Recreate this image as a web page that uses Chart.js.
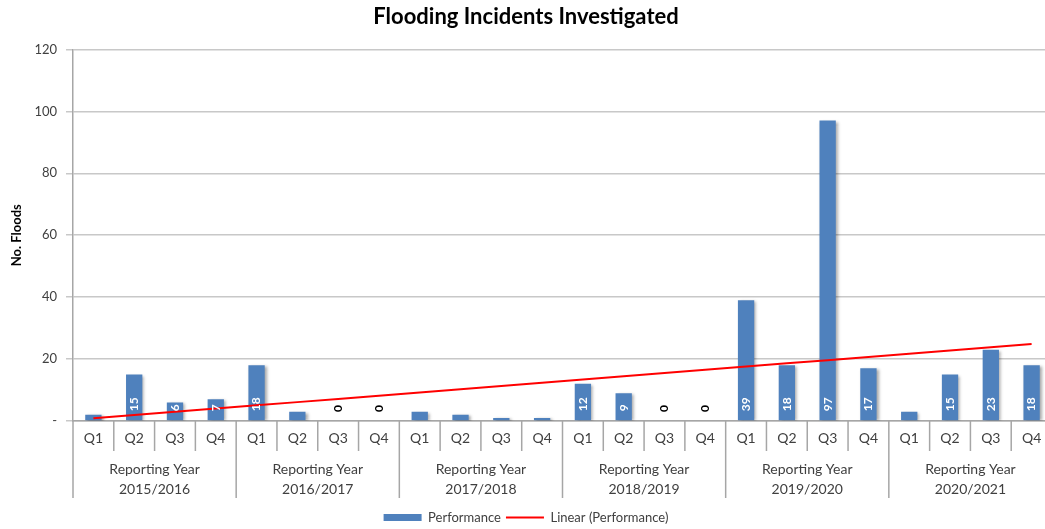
<!DOCTYPE html>
<html>
<head>
<meta charset="utf-8">
<script src="https://cdn.jsdelivr.net/npm/chart.js@4.4.1/dist/chart.umd.min.js"></script>
<style>
  html, body { margin: 0; padding: 0; background: #fff; overflow: hidden; }
  #wrap { width: 1056px; height: 534px; position: relative; }
</style>
</head>
<body>
<div id="wrap"><canvas id="floodChart"></canvas></div>
<script>
// dane z wykresu
const quarterNames = ['Q1', 'Q2', 'Q3', 'Q4'];
const reportingYears = ['2015/2016', '2016/2017', '2017/2018', '2018/2019', '2019/2020', '2020/2021'];
const floods = [2, 15, 6, 7, 18, 3, 0, 0, 3, 2, 1, 1, 12, 9, 0, 0, 39, 18, 97, 17, 3, 15, 23, 18];
const yMin = 0, yMax = 120, yStep = 20;

const categories = reportingYears.flatMap(() => quarterNames);

// linia trendu (regresja liniowa, jak w Excelu)
function linearTrend(values) {
    const n = values.length;
    let sx = 0, sy = 0, sxy = 0, sxx = 0;
    values.forEach((v, i) => { const x = i + 1; sx += x; sy += v; sxy += x * v; sxx += x * x; });
    const slope = (n * sxy - sx * sy) / (n * sxx - sx * sx);
    const intercept = (sy - slope * sx) / n;
    return values.map((_, i) => intercept + slope * (i + 1));
}

const FONT = 'Lato';
const TEXT = '#404040';
const BLUE = '#4f81bd';
const RED = '#ff0000';
const X_AXIS_H = 85;
const YEAR_SEP = 77;

const excelLook = {
    id: 'excelLook',
    beforeDatasetDraw(chart, args) {
        if (args.index !== 0) return;
        const ctx = chart.ctx;
        ctx.save();
        ctx.shadowColor = 'rgba(0,0,0,0.35)';
        ctx.shadowBlur = 3;
        ctx.shadowOffsetX = 2;
        ctx.shadowOffsetY = 1;
    },
    afterDatasetDraw(chart, args) {
        if (args.index !== 0) return;
        chart.ctx.restore();
    },
    afterDraw(chart) {
        const { ctx, chartArea, scales: { x } } = chart;
        const meta = chart.getDatasetMeta(0);
        const bottom = chartArea.bottom;

        // etykiety słupków
        ctx.save();
        ctx.font = 'bold 12px ' + FONT;
        ctx.textBaseline = 'middle';
        ctx.textAlign = 'left';
        meta.data.forEach((bar, i) => {
            const v = floods[i];
            if (v !== 0 && v < 5) return;
            ctx.save();
            ctx.translate(bar.x, bar.base - 9);
            ctx.rotate(-Math.PI / 2);
            ctx.fillStyle = v === 0 ? '#000' : '#fff';
            ctx.fillText(String(v), 0, 0);
            ctx.restore();
        });

        // separatory kwartałów i lat
        const half = (x.getPixelForValue(1) - x.getPixelForValue(0)) / 2;
        ctx.strokeStyle = '#a6a6a6';
        ctx.lineWidth = 1.5;
        for (let i = 0; i <= floods.length; i++) {
            const px = i < floods.length ? x.getPixelForValue(i) - half : x.getPixelForValue(i - 1) + half;
            const len = i % 4 === 0 ? YEAR_SEP : 30;
            ctx.beginPath();
            ctx.moveTo(px, bottom);
            ctx.lineTo(px, bottom + len);
            ctx.stroke();
        }

        // lata sprawozdawcze
        ctx.fillStyle = TEXT;
        ctx.font = '14px ' + FONT;
        ctx.textAlign = 'center';
        ctx.textBaseline = 'middle';
        reportingYears.forEach((yr, k) => {
            const cx = (x.getPixelForValue(4 * k) + x.getPixelForValue(4 * k + 3)) / 2;
            ctx.fillText('Reporting Year', cx, bottom + 48);
            ctx.fillText(yr, cx, bottom + 68);
        });
        ctx.restore();
    }
};

new Chart(document.getElementById('floodChart'), {
    type: 'bar',
    data: {
        labels: categories,
        datasets: [
            {
                label: 'Performance',
                data: floods,
                backgroundColor: BLUE,
                barPercentage: 0.8,
                categoryPercentage: 0.5,
                order: 2
            },
            {
                type: 'line',
                label: 'Linear (Performance)',
                data: linearTrend(floods),
                borderColor: RED,
                backgroundColor: RED,
                borderWidth: 2,
                pointRadius: 0,
                fill: false,
                order: 1
            }
        ]
    },
    options: {
        responsive: true,
        maintainAspectRatio: false,
        animation: false,
        layout: { padding: { left: 0, right: 4, top: 0, bottom: 0 } },
        plugins: {
            tooltip: { enabled: false },
            title: {
                display: true,
                text: 'Flooding Incidents Investigated',
                color: '#000',
                font: { family: FONT, size: 22, weight: 'bold' },
                padding: { top: 4, bottom: 19 }
            },
            legend: {
                position: 'bottom',
                labels: {
                    color: TEXT,
                    font: { family: FONT, size: 13 },
                    usePointStyle: true,
                    pointStyleWidth: 38,
                    boxHeight: 7,
                    padding: 5,
                    sort: (a, b) => a.datasetIndex - b.datasetIndex,
                    generateLabels(chart) {
                        return Chart.defaults.plugins.legend.labels.generateLabels(chart).map(l => {
                            const isBar = l.datasetIndex === 0;
                            return {
                                ...l,
                                pointStyle: isBar ? 'rect' : 'line',
                                lineWidth: isBar ? 0 : 2,
                                fillStyle: isBar ? BLUE : RED,
                                strokeStyle: isBar ? BLUE : RED
                            };
                        });
                    }
                }
            }
        },
        scales: {
            x: {
                grid: { display: true, drawOnChartArea: false, drawTicks: false },
                border: { display: true, color: '#a6a6a6', width: 1.5 },
                ticks: { color: TEXT, font: { family: FONT, size: 14 }, padding: 9, maxRotation: 0, autoSkip: false },
                afterFit(scale) { scale.height = X_AXIS_H; }
            },
            y: {
                min: yMin,
                max: yMax,
                ticks: {
                    stepSize: yStep,
                    color: TEXT,
                    font: { family: FONT, size: 13 },
                    padding: 9,
                    callback: v => (v === 0 ? '-' : v)
                },
                grid: { color: '#c8c8c8', lineWidth: 1.5, tickLength: 7 },
                border: { color: '#a6a6a6', width: 1.5 },
                title: {
                    display: true,
                    text: 'No. Floods',
                    color: '#000',
                    font: { family: FONT, size: 13, weight: 'bold' },
                    padding: { top: 9, bottom: 0 }
                },
                afterFit(scale) { scale.width = 73; }
            }
        }
    },
    plugins: [excelLook]
});
</script>
</body>
</html>
